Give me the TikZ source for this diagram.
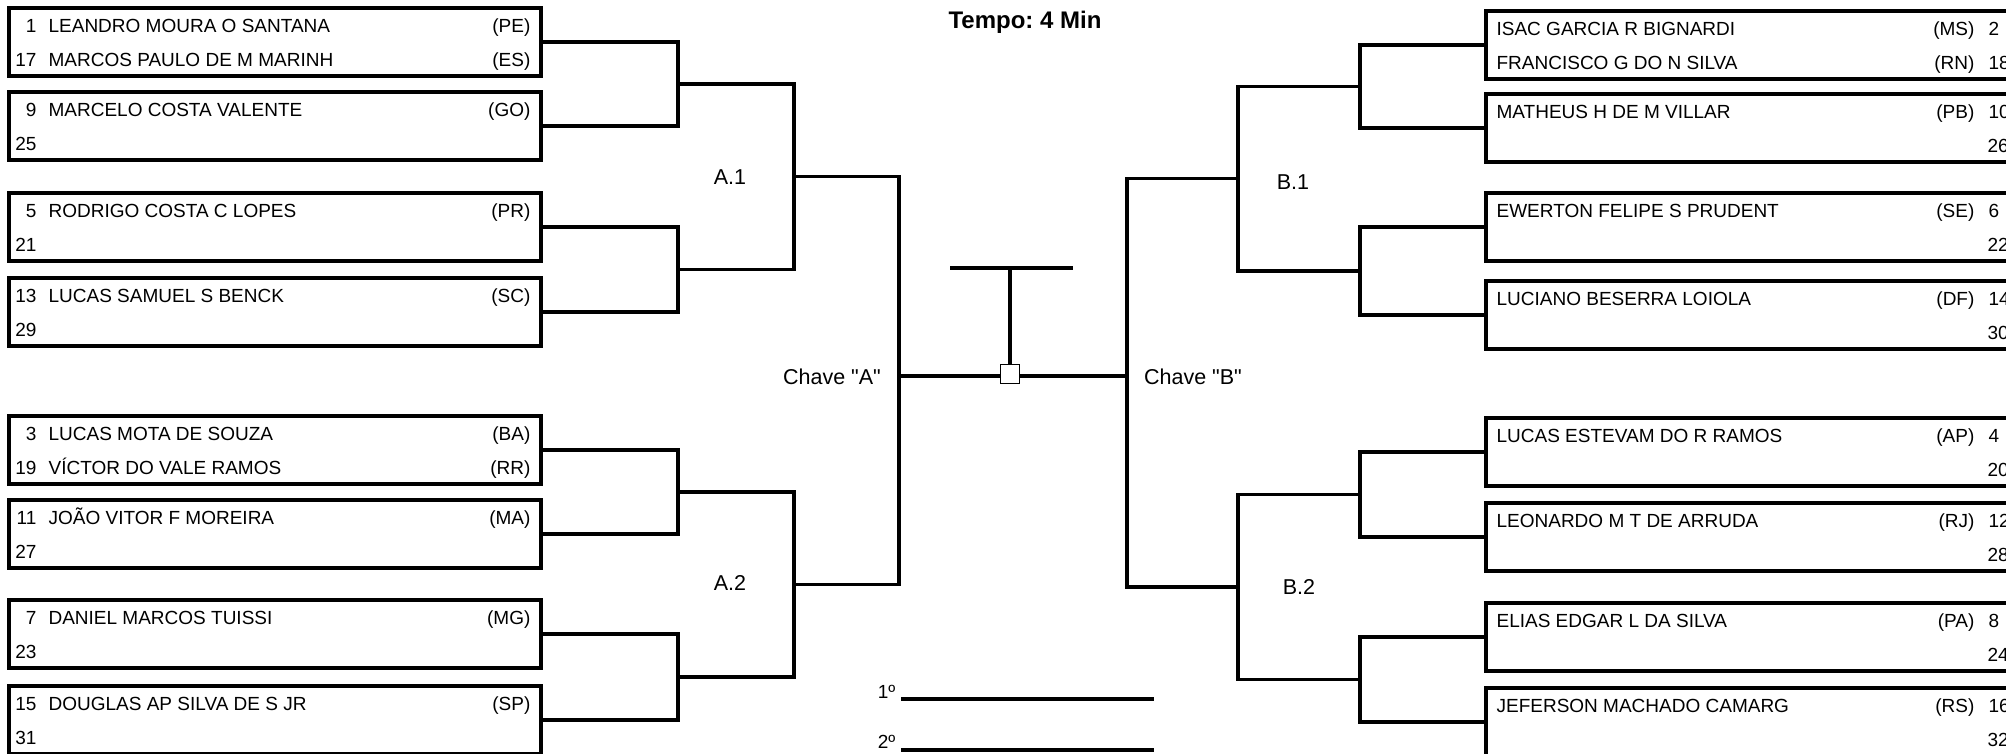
\documentclass[tikz,border=0pt]{standalone}
\usepackage{fontspec}
\setmainfont{Liberation Sans}
\newfontfamily\lsans{Liberation Sans}
\frenchspacing
\newcommand{\dq}{{\XeTeXglyph\XeTeXglyphindex "quotedbl"\relax}}
\newcommand{\Lbox}[2]{\node[pbox] (#1) at (275,{#2+34}) {};}
\newcommand{\Rbox}[2]{\node[pbox] (#1) at (1752,{#2+34}) {};}
\newcommand{\Lrow}[5]{%
  \node[ntxt,anchor=base east] (#1n) at (38,#2) {#3};
  \node[ntxt,anchor=base west] (#1t) at (47,#2) {#4};
  \node[ntxt,anchor=base east] (#1s) at (532,#2) {#5};}
\newcommand{\Lnum}[3]{\node[ntxt,anchor=base east] (#1n) at (38,#2) {#3};}
\newcommand{\Rrow}[5]{%
  \node[ntxt,anchor=base west] (#1t) at (1495,#2) {#3};
  \node[ntxt,anchor=base east] (#1s) at (1976,#2) {#4};
  \node[ntxt,anchor=base west] (#1n) at (1987,#2) {#5};}
\newcommand{\Rnum}[3]{\node[ntxt,anchor=base west] (#1n) at (1986,#2) {#3};}
\begin{document}
\begin{tikzpicture}[x=1pt,y=-1pt,line width=3.2pt,line join=miter,
  pbox/.style={draw,line width=3.2pt,minimum width=532pt,minimum height=68pt,inner sep=0pt,outer sep=0pt},
  ntxt/.style={font=\lsans\fontsize{19}{22}\selectfont,inner sep=0pt},
  lbl/.style={font=\lsans\fontsize{21.5}{25}\selectfont,inner sep=0pt},
  ttl/.style={font=\lsans\bfseries\fontsize{24}{28}\selectfont,inner sep=0pt},
  sqbox/.style={draw,line width=1pt,fill=white,minimum width=19.5pt,minimum height=19pt,inner sep=0pt,outer sep=0pt}]
\useasboundingbox (0,0) rectangle (2006,753);
% ---------- left boxes
\Lbox{a1}{8}\Lbox{a2}{92}\Lbox{a3}{193}\Lbox{a4}{278}
\Lbox{a5}{416}\Lbox{a6}{500}\Lbox{a7}{600}\Lbox{a8}{686}
\Lrow{a1r1}{32.5}{1}{LEANDRO MOURA O SANTANA}{(PE)}
\Lrow{a1r2}{66}{17}{MARCOS PAULO DE M MARINH}{(ES)}
\Lrow{a2r1}{116.5}{9}{MARCELO COSTA VALENTE}{(GO)}
\Lnum{a2r2}{150}{25}
\Lrow{a3r1}{217.5}{5}{RODRIGO COSTA C LOPES}{(PR)}
\Lnum{a3r2}{251}{21}
\Lrow{a4r1}{302.5}{13}{LUCAS SAMUEL S BENCK}{(SC)}
\Lnum{a4r2}{336}{29}
\Lrow{a5r1}{440.5}{3}{LUCAS MOTA DE SOUZA}{(BA)}
\Lrow{a5r2}{474}{19}{VÍCTOR DO VALE RAMOS}{(RR)}
\Lrow{a6r1}{524.5}{11}{JOÃO VITOR F MOREIRA}{(MA)}
\Lnum{a6r2}{558}{27}
\Lrow{a7r1}{624.5}{7}{DANIEL MARCOS TUISSI}{(MG)}
\Lnum{a7r2}{658}{23}
\Lrow{a8r1}{710.5}{15}{DOUGLAS AP SILVA DE S JR}{(SP)}
\Lnum{a8r2}{744}{31}
% ---------- right boxes
\Rbox{b1}{11}\Rbox{b2}{94}\Rbox{b3}{193}\Rbox{b4}{281}
\Rbox{b5}{418}\Rbox{b6}{503}\Rbox{b7}{603}\Rbox{b8}{688}
\Rrow{b1r1}{35.5}{ISAC GARCIA R BIGNARDI}{(MS)}{2}
\Rrow{b1r2}{69}{FRANCISCO G DO N SILVA}{(RN)}{18}
\Rrow{b2r1}{118.5}{MATHEUS H DE M VILLAR}{(PB)}{10}
\Rnum{b2r2}{152}{26}
\Rrow{b3r1}{217.5}{EWERTON FELIPE S PRUDENT}{(SE)}{6}
\Rnum{b3r2}{251}{22}
\Rrow{b4r1}{305.5}{LUCIANO BESERRA LOIOLA}{(DF)}{14}
\Rnum{b4r2}{339}{30}
\Rrow{b5r1}{442.5}{LUCAS ESTEVAM DO R RAMOS}{(AP)}{4}
\Rnum{b5r2}{476}{20}
\Rrow{b6r1}{527.5}{LEONARDO M T DE ARRUDA}{(RJ)}{12}
\Rnum{b6r2}{561}{28}
\Rrow{b7r1}{627.5}{ELIAS EDGAR L DA SILVA}{(PA)}{8}
\Rnum{b7r2}{661}{24}
\Rrow{b8r1}{712.5}{JEFERSON MACHADO CAMARG}{(RS)}{16}
\Rnum{b8r2}{746}{32}
% ---------- junctions left
\coordinate (ja12) at (678,84);
\coordinate (ja34) at (678,269.5);
\coordinate (ja56) at (678,492);
\coordinate (ja78) at (678,677);
\coordinate (ka14) at (794,176.75);
\coordinate (ka58) at (794,584.5);
\coordinate (ma) at (899,376);
% ---------- junctions right
\coordinate (jb12) at (1360,86.5);
\coordinate (jb34) at (1360,271);
\coordinate (jb56) at (1360,494.5);
\coordinate (jb78) at (1360,679.5);
\coordinate (kb14) at (1238,178.75);
\coordinate (kb58) at (1238,587);
\coordinate (mb) at (1127,376);
% ---------- brackets left
\draw (a1.east) -| (ja12) |- (a2.east);
\draw (a3.east) -| (ja34) |- (a4.east);
\draw (a5.east) -| (ja56) |- (a6.east);
\draw (a7.east) -| (ja78) |- (a8.east);
\draw (ja12) -| (ka14) |- (ja34);
\draw (ja56) -| (ka58) |- (ja78);
\draw (ka14) -| (ma) |- (ka58);
% ---------- brackets right
\draw (b1.west) -| (jb12) |- (b2.west);
\draw (b3.west) -| (jb34) |- (b4.west);
\draw (b5.west) -| (jb56) |- (b6.west);
\draw (b7.west) -| (jb78) |- (b8.west);
\draw (jb12) -| (kb14) |- (jb34);
\draw (jb56) -| (kb58) |- (jb78);
\draw (kb14) -| (mb) |- (kb58);
% ---------- centre
\node[sqbox] (sq) at (1010,374) {};
\draw (ma) -- (ma -| sq.west);
\draw (mb) -- (mb -| sq.east);
\coordinate (tl) at (950,268);
\coordinate (tr) at (1073,268);
\draw (tl) -- (tr);
\draw (sq.north) -- (sq.north |- tl);
% ---------- labels
\node[lbl] (la1) at (730,177) {A.1};
\node[lbl] (la2) at (730,583) {A.2};
\node[lbl] (lb1) at (1293,182) {B.1};
\node[lbl] (lb2) at (1299,587) {B.2};
\node[lbl] (cha) at (832,377) {Chave \dq A\dq};
\node[lbl] (chb) at (1193,377) {Chave \dq B\dq};
\node[ttl] (tempo) at (1025,22) {Tempo: 4 Min};
% ---------- places
\node[ntxt,anchor=base east] (p1) at (897,698) {1º};
\node[ntxt,anchor=base east] (p2) at (897,748) {2º};
\coordinate (p1a) at (901,699);
\coordinate (p1b) at (1154,699);
\coordinate (p2a) at (901,750);
\coordinate (p2b) at (1154,750);
\draw (p1a) -- (p1b);
\draw (p2a) -- (p2b);
\end{tikzpicture}
\end{document}
